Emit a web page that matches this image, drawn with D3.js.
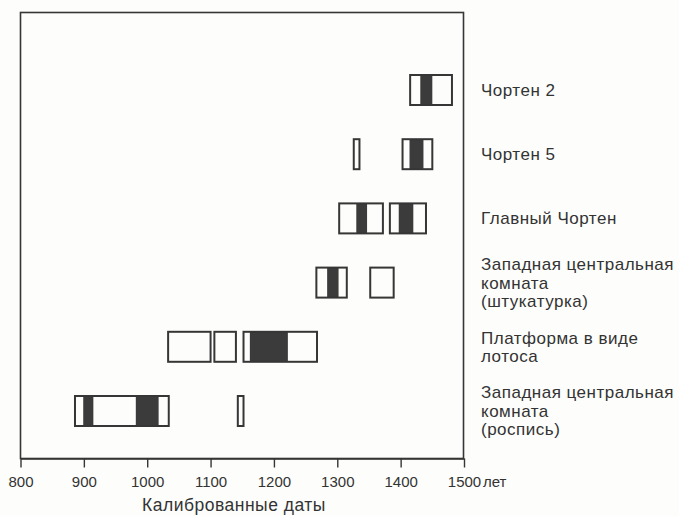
<!DOCTYPE html>
<html>
<head>
<meta charset="utf-8">
<script src="https://cdn.jsdelivr.net/npm/d3@7"></script>
<style>
body { margin: 0; background: #fdfdfb; }
svg { display: block; font-family: "Liberation Sans", Arial, sans-serif; }
</style>
</head>
<body>
<svg id="chart" width="679" height="516"></svg>
<script>
// rows top to bottom
const rows = ["ch2", "ch5", "main", "wplaster", "lotus", "wpaint"];
const rowLabels = [
  ["Чортен 2"],
  ["Чортен 5"],
  ["Главный Чортен"],
  ["Западная центральная", "комната", "(штукатурка)"],
  ["Платформа в виде", "лотоса"],
  ["Западная центральная", "комната", "(роспись)"]
];
// calibrated ranges (open boxes) and probability peaks (dark)
const boxes = [
  [[1415, 1481]],
  [[1326, 1335], [1403, 1450]],
  [[1303, 1372], [1383, 1440]],
  [[1267, 1315], [1352, 1389]],
  [[1033, 1100], [1106, 1140], [1152, 1268]],
  [[886, 1034], [1143, 1152]]
];
const peaks = [
  [[1431, 1450]],
  [[1414, 1436]],
  [[1330, 1347], [1397, 1420]],
  [[1284, 1302]],
  [[1162, 1222]],
  [[899, 915], [982, 1018]]
];
const ticks = [800, 900, 1000, 1100, 1200, 1300, 1400, 1500];

const svg = d3.select("#chart");
const ink = "#363636";

const x = d3.scaleLinear().domain([800, 1500]).range([20.5, 464]);
const y = d3.scalePoint().domain(rows).range([90, 411]);
const barH = 30;

// frame
svg.append("rect")
  .attr("x", 20.5).attr("y", 12.5)
  .attr("width", 443).attr("height", 446)
  .attr("fill", "none").attr("stroke", ink).attr("stroke-width", 1.6);

// axis
const axis = d3.axisBottom(x).tickValues(ticks).tickSize(9).tickSizeOuter(0).tickFormat(d3.format("d"));
const ax = svg.append("g").attr("transform", "translate(0,458.5)").call(axis);
ax.select(".domain").attr("stroke", ink).attr("stroke-width", 1.6);
ax.selectAll(".tick line").attr("stroke", ink).attr("stroke-width", 1.4);
ax.selectAll(".tick text")
  .attr("y", 18).attr("dy", "0.71em")
  .attr("fill", "#333").style("font-size", "15px").style("font-family", "Liberation Sans, Arial, sans-serif");

svg.append("text")
  .attr("x", x(1500) + 19).attr("y", 476).attr("dy", "0.71em")
  .attr("fill", "#333").style("font-size", "15px")
  .text("лет");

svg.append("text")
  .attr("x", 234).attr("y", 511)
  .attr("text-anchor", "middle")
  .attr("fill", "#333").style("font-size", "17.5px").style("letter-spacing", "0.5px")
  .text("Калиброванные даты");

// bars
rows.forEach((r, i) => {
  const g = svg.append("g");
  const cy = y(r);
  g.selectAll("rect.peak").data(peaks[i]).join("rect")
    .attr("class", "peak")
    .attr("x", d => x(d[0])).attr("width", d => x(d[1]) - x(d[0]))
    .attr("y", cy - barH / 2).attr("height", barH)
    .attr("fill", "#3b3b3b");
  g.selectAll("rect.box").data(boxes[i]).join("rect")
    .attr("class", "box")
    .attr("x", d => x(d[0])).attr("width", d => x(d[1]) - x(d[0]))
    .attr("y", cy - barH / 2).attr("height", barH)
    .attr("fill", "none").attr("stroke", ink).attr("stroke-width", 2);

  const lines = rowLabels[i];
  const lh = 18.5;
  const t = svg.append("text")
    .attr("x", 481)
    .attr("fill", "#333").style("font-size", "17px").style("letter-spacing", "0.5px");
  lines.forEach((l, k) => {
    t.append("tspan")
      .attr("x", 481)
      .attr("y", cy + (k - (lines.length - 1) / 2) * lh)
      .attr("dy", "0.35em")
      .text(l);
  });
});
</script>
</body>
</html>
